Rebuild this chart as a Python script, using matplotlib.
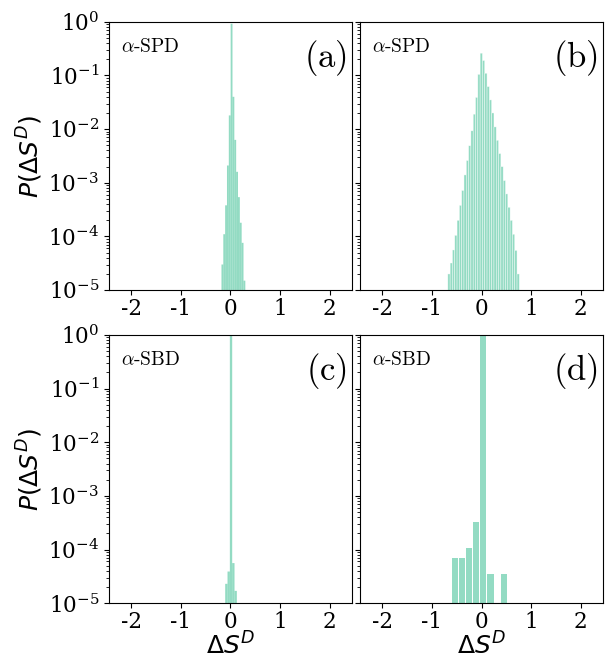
import matplotlib
matplotlib.use('Agg')
import matplotlib.pyplot as plt
from matplotlib.ticker import LogLocator, NullFormatter
import numpy as np

plt.rcParams['font.family'] = 'serif'
plt.rcParams['font.serif'] = ['DejaVu Serif']
plt.rcParams['axes.unicode_minus'] = False

# histogram values (probability per bin)
SPD_A_EDGES = np.linspace(-0.18, 0.301, 14)
SPD_A = [3e-5, 1.1e-4, 3.8e-4, 2.1e-3, 0.018, 0.92, 0.04,
         6.3e-3, 1.6e-3, 5.4e-4, 1.8e-4, 7.6e-5, 1.5e-5]

SPD_B_EDGES = np.linspace(-0.68, 0.7615, 32)
SPD_B = [2.0e-5, 3.2e-5, 5.6e-5, 1.05e-4, 2.0e-4, 3.8e-4, 7.2e-4,
         1.4e-3, 2.6e-3, 4.9e-3, 9.3e-3, 0.019, 0.039, 0.105,
         0.26,
         0.19, 0.11, 0.062, 0.035, 0.02, 0.011, 6.2e-3, 3.5e-3,
         2.0e-3, 1.1e-3, 6.2e-4, 3.5e-4, 2.0e-4, 1.1e-4, 5.5e-5, 2.0e-5]

SBD_C_EDGES = np.linspace(-0.105, 0.13, 6)
SBD_C = [2.3e-5, 3.9e-5, 0.9998, 5.6e-5, 1.7e-5]

SBD_D_CENTERS = [-0.53, -0.39, -0.25, -0.11, 0.036, 0.18, 0.46]
SBD_D = [7.1e-5, 7.1e-5, 1.05e-4, 3.2e-4, 0.9998, 3.5e-5, 3.5e-5]
SBD_D_BIN = 1 / 7

Y_TICKS = [1e-5, 1e-4, 1e-3, 1e-2, 1e-1, 1e0]

COLOR = '#66cdaa'
TICK_SIZE = 15.5
LABEL_SIZE = 18

fig, axes = plt.subplots(2, 2, figsize=(6.08, 6.6), dpi=100, sharey=True)
fig.subplots_adjust(left=0.179, right=0.992, top=0.967, bottom=0.086,
                    wspace=0.033, hspace=0.167)
ax_a, ax_b = axes[0]
ax_c, ax_d = axes[1]

ax_a.bar(SPD_A_EDGES[:-1], SPD_A, width=np.diff(SPD_A_EDGES), align='edge',
         color=COLOR, alpha=0.7, linewidth=0, snap=False)
ax_b.bar(SPD_B_EDGES[:-1], SPD_B, width=np.diff(SPD_B_EDGES), align='edge',
         color=COLOR, alpha=0.7, edgecolor='white', linewidth=0.4, snap=False)
ax_c.bar(SBD_C_EDGES[:-1], SBD_C, width=np.diff(SBD_C_EDGES), align='edge',
         color=COLOR, alpha=0.7, linewidth=0, snap=False)
ax_d.bar(SBD_D_CENTERS, SBD_D, width=0.86 * SBD_D_BIN,
         color=COLOR, alpha=0.7, linewidth=0)

names = ['(a)', '(b)', '(c)', '(d)']
tags = [r'$\alpha\text{-SPD}$', r'$\alpha\text{-SPD}$',
        r'$\alpha\text{-SBD}$', r'$\alpha\text{-SBD}$']
for ax, name, tag in zip(axes.flat, names, tags):
    ax.set_yscale('log')
    ax.set_yticks(Y_TICKS)
    ax.yaxis.set_minor_locator(LogLocator(base=10, subs=np.arange(2, 10), numticks=20))
    ax.yaxis.set_minor_formatter(NullFormatter())
    ax.set_ylim(1e-5, 1)
    ax.set_xlim(-2.45, 2.45)
    ax.set_xticks([-2, -1, 0, 1, 2])
    ax.tick_params(labelsize=TICK_SIZE)
    ax.tick_params(axis='x', pad=2)
    ax.text(0.05, 0.905, tag, transform=ax.transAxes, fontsize=14,
            math_fontfamily='cm', ha='left', va='center')
    ax.text(0.98, 0.865, r'$\text{' + name + '}$', transform=ax.transAxes,
            fontsize=25, math_fontfamily='cm', ha='right', va='center')

for ax in (ax_a, ax_c):
    ax.set_ylabel(r'$P(\Delta S^D)$', fontsize=LABEL_SIZE, labelpad=2)
for ax in (ax_c, ax_d):
    ax.set_xlabel(r'$\Delta S^D$', fontsize=LABEL_SIZE, labelpad=0)

fig.savefig('out.png', dpi=100)
